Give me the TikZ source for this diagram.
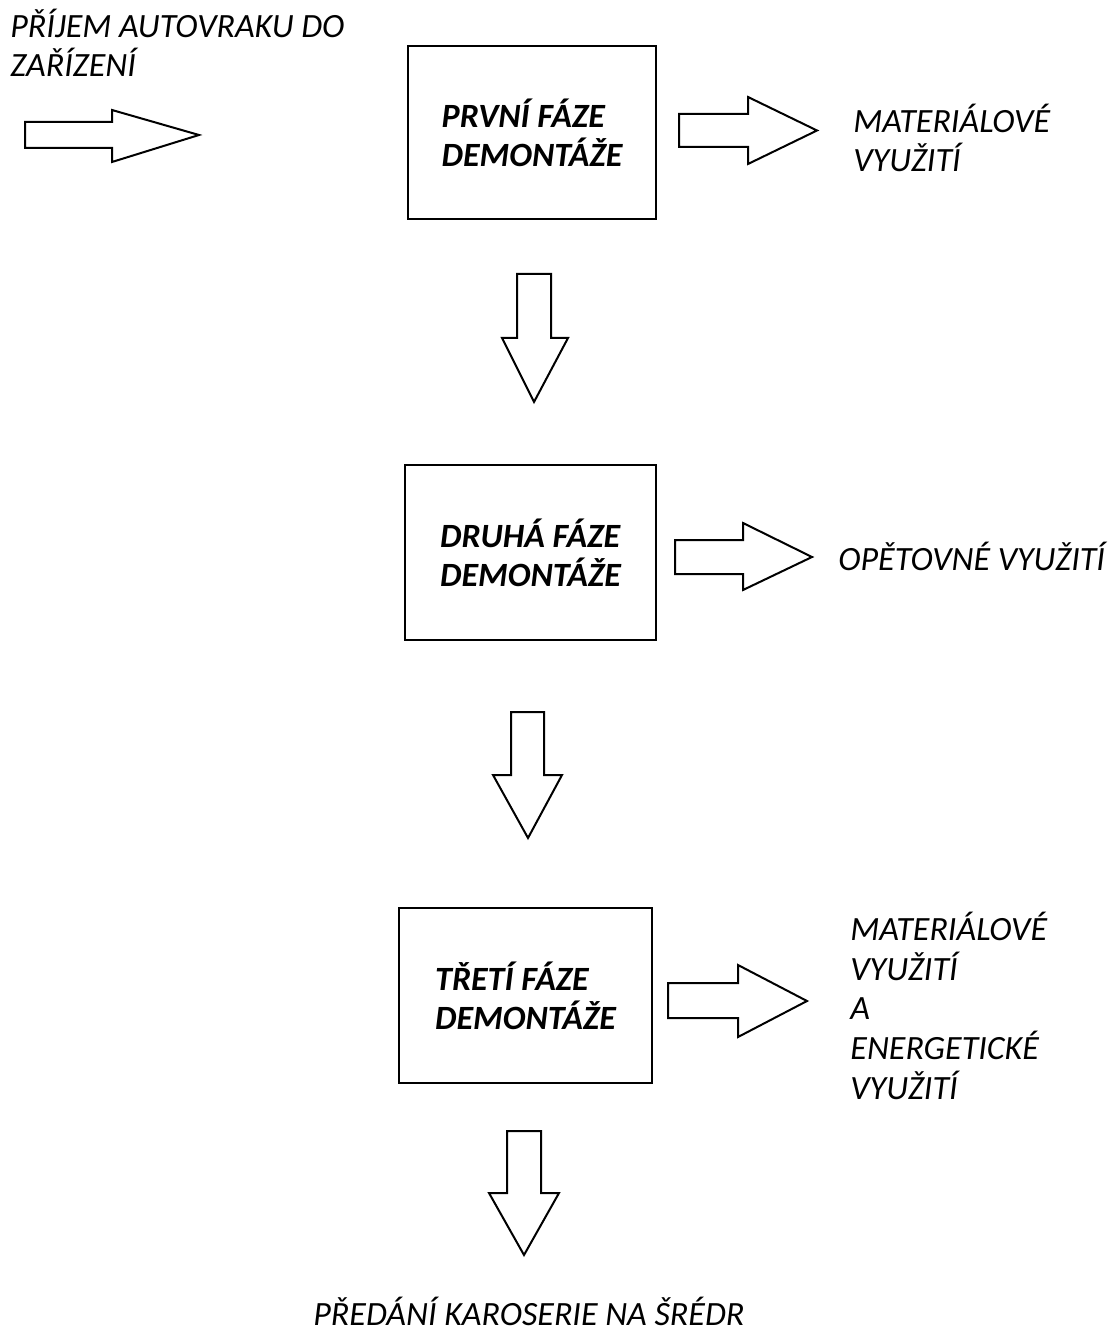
\documentclass[tikz,border=0pt]{standalone}
\usepackage{fontspec}
\setmainfont{Carlito}
\begin{document}
\begin{tikzpicture}[x=0.5pt,y=-0.5pt,
  lbl/.style={anchor=base west, inner sep=0pt, align=left,
    font=\fontsize{17}{19.8}\selectfont\itshape},
  phase/.style={draw, line width=1pt, align=left, inner sep=0pt,
    font=\fontsize{17}{19.5}\selectfont\bfseries\itshape},
  blockarrow/.style={draw, line width=1pt, line join=miter, fill=white}]
\useasboundingbox (0,0) rectangle (1117,1336);

% phase boxes
\node[phase, minimum width=124pt, minimum height=86.5pt] (p1) at (532,132.5) {PRVNÍ FÁZE\\DEMONTÁŽE};
\node[phase, minimum width=125.5pt, minimum height=87.5pt] (p2) at (530.5,552.5) {DRUHÁ FÁZE\\DEMONTÁŽE};
\node[phase, minimum width=126.5pt, minimum height=87.5pt] (p3) at (525.5,995.5) {TŘETÍ FÁZE\\DEMONTÁŽE};

% labels (anchored at the baseline of their last line)
\node[lbl] (in) at (10,77) {PŘÍJEM AUTOVRAKU DO\\ZAŘÍZENÍ};
\node[lbl] (o1) at (853,172) {MATERIÁLOVÉ\\VYUŽITÍ};
\node[lbl] (o2) at (838,570) {OPĚTOVNÉ VYUŽITÍ};
\node[lbl] (o3) at (850,1099) {MATERIÁLOVÉ\\VYUŽITÍ\\A\\ENERGETICKÉ\\VYUŽITÍ};
\node[lbl] (out) at (313,1325) {PŘEDÁNÍ KAROSERIE NA ŠRÉDR};

% block arrows
\draw[blockarrow] (25,122) -- (112,122) -- (112,110) -- (199,135) -- (112,162) -- (112,148) -- (25,148) -- cycle;
\draw[blockarrow] (679,114) -- (748,114) -- (748,97) -- (817,130.5) -- (748,164) -- (748,147) -- (679,147) -- cycle;
\draw[blockarrow] (675,540) -- (743,540) -- (743,523) -- (812,557) -- (743,590) -- (743,574) -- (675,574) -- cycle;
\draw[blockarrow] (668,983) -- (738,983) -- (738,965) -- (807,1001) -- (738,1037) -- (738,1018) -- (668,1018) -- cycle;
\draw[blockarrow] (517,274) -- (551,274) -- (551,338) -- (568,338) -- (534,402) -- (502,338) -- (517,338) -- cycle;
\draw[blockarrow] (511,712) -- (544,712) -- (544,775) -- (562,775) -- (528,838) -- (493,775) -- (511,775) -- cycle;
\draw[blockarrow] (507,1131) -- (541,1131) -- (541,1193) -- (559,1193) -- (524,1255) -- (489,1193) -- (507,1193) -- cycle;
\end{tikzpicture}
\end{document}
